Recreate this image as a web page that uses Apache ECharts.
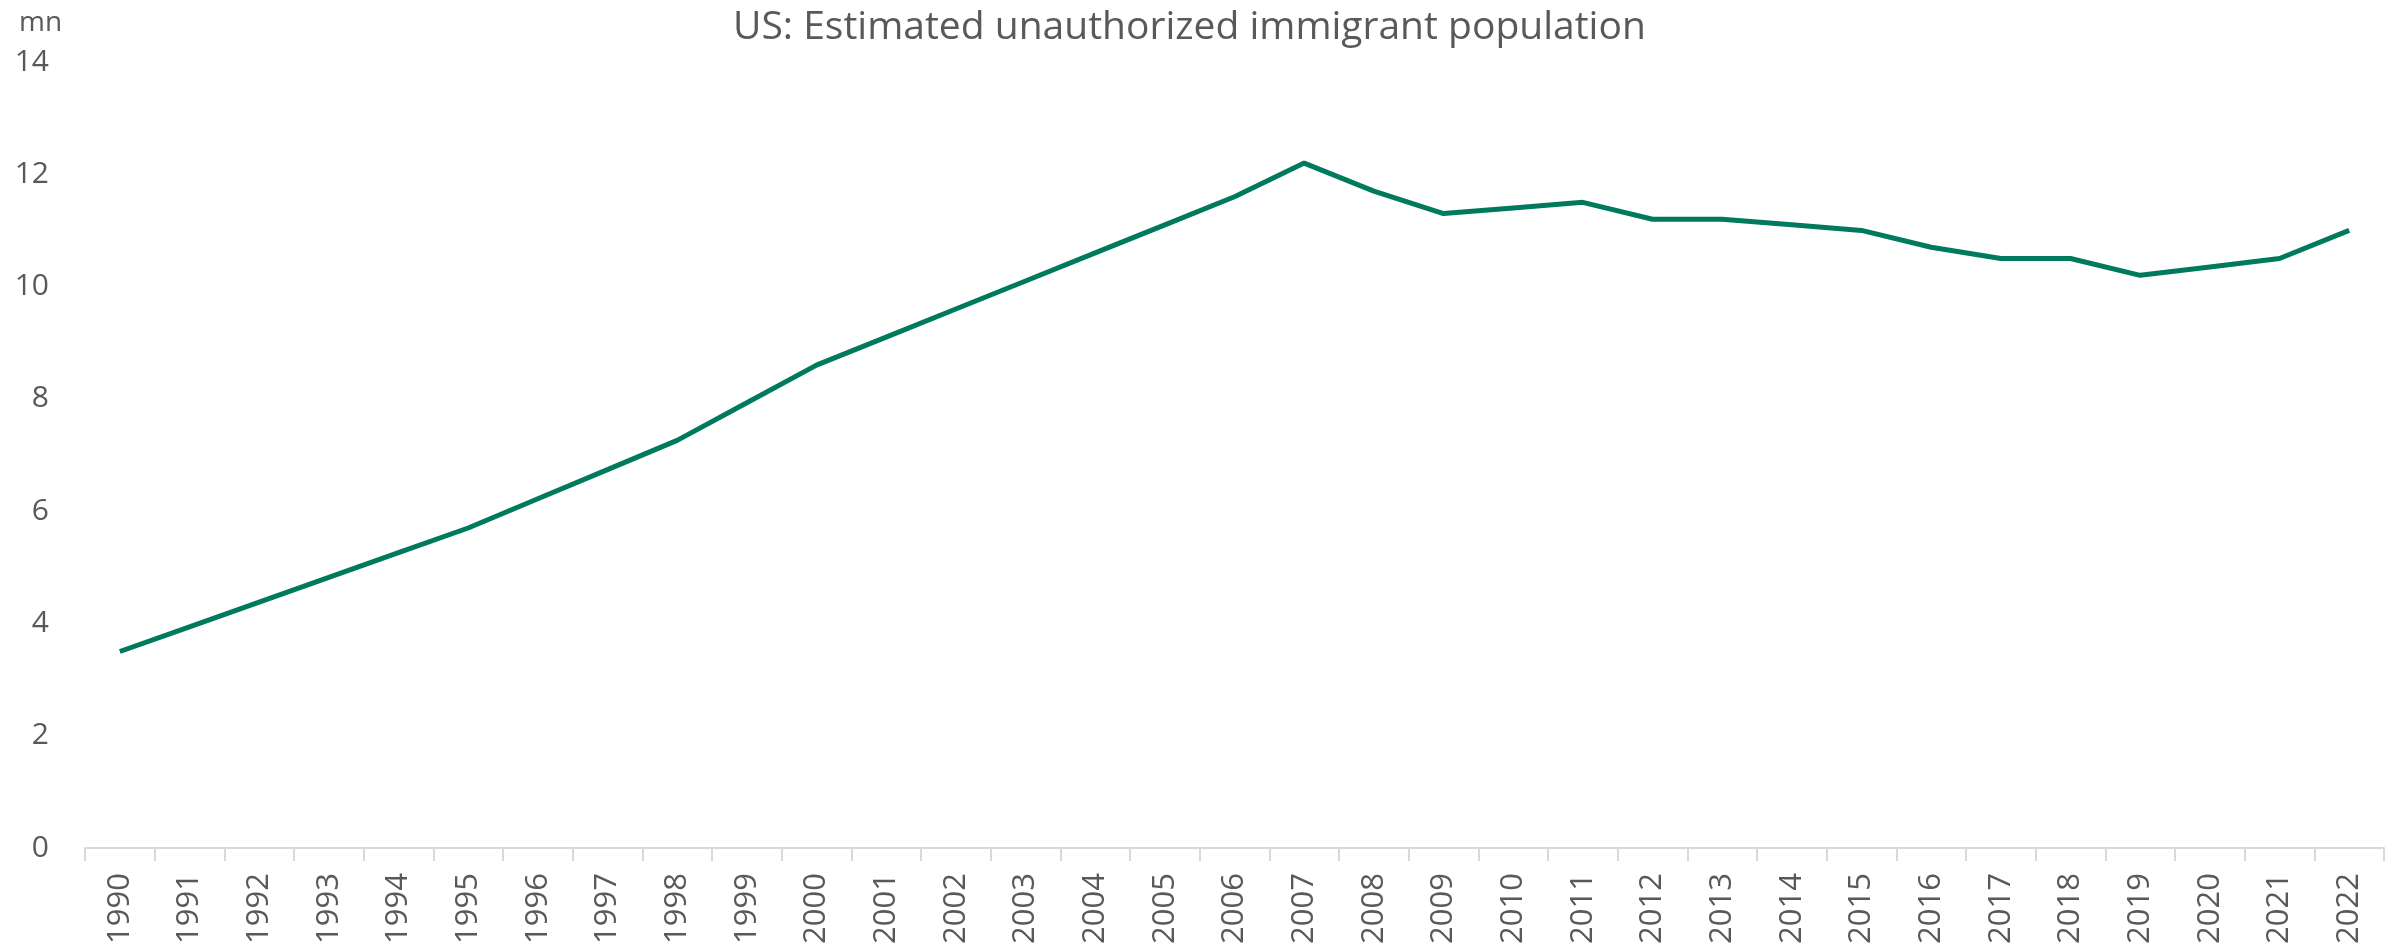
<!DOCTYPE html>
<html>
<head>
<meta charset="utf-8">
<script src="https://cdn.jsdelivr.net/npm/echarts@6/dist/echarts.min.js"></script>
<style>
  html, body { margin: 0; padding: 0; background: #fff; }
  #chart { width: 2405px; height: 952px; }
</style>
</head>
<body>
<div id="chart"></div>
<script>
// years on the x axis
const years = [
    '1990', '1991', '1992', '1993', '1994', '1995', '1996', '1997', '1998', '1999',
    '2000', '2001', '2002', '2003', '2004', '2005', '2006', '2007', '2008', '2009',
    '2010', '2011', '2012', '2013', '2014', '2015', '2016', '2017', '2018', '2019',
    '2020', '2021', '2022'
]

// unauthorized immigrant population, mn
const population = [
    3.5, 3.94, 4.38, 4.82, 5.26, 5.7, 6.22, 6.74, 7.26, 7.93,
    8.6, 9.1, 9.6, 10.1, 10.6, 11.1, 11.6, 12.2, 11.7, 11.3,
    11.4, 11.5, 11.2, 11.2, 11.1, 11.0, 10.7, 10.5, 10.5, 10.2,
    10.35, 10.5, 11.0
]

const yTicks = [0, 2, 4, 6, 8, 10, 12, 14]

const textColor = '#595959'
const fontFamily = '"Open Sans", "Noto Sans", sans-serif'

const chart = echarts.init(document.getElementById('chart'))

chart.setOption({
    animation: false,
    title: [
        {
            text: 'US: Estimated unauthorized immigrant population',
            left: 728,
            top: 3,
            textStyle: { color: textColor, fontSize: 39, fontWeight: 'normal', fontFamily }
        },
        {
            text: 'mn',
            left: 14,
            top: 4,
            textStyle: { color: textColor, fontSize: 28, fontWeight: 'normal', fontFamily }
        }
    ],
    grid: { left: 85, right: 21, top: 62, bottom: 104, containLabel: false },
    xAxis: {
        type: 'category',
        data: years,
        boundaryGap: true,
        axisLine: { lineStyle: { color: '#D9D9D9', width: 2 } },
        axisTick: { show: true, length: 13, lineStyle: { color: '#D9D9D9', width: 2 } },
        axisLabel: {
            rotate: 90,
            interval: 0,
            margin: 25,
            color: textColor,
            fontSize: 31,
            fontFamily
        }
    },
    yAxis: {
        type: 'value',
        min: yTicks[0],
        max: yTicks[yTicks.length - 1],
        interval: 2,
        axisLine: { show: false },
        axisTick: { show: false },
        splitLine: { show: false },
        axisLabel: { color: textColor, fontSize: 30, fontFamily, margin: 36 }
    },
    series: [
        {
            type: 'line',
            data: population,
            showSymbol: false,
            lineStyle: { color: '#007A5E', width: 5 },
            itemStyle: { color: '#007A5E' }
        }
    ]
})
</script>
</body>
</html>
